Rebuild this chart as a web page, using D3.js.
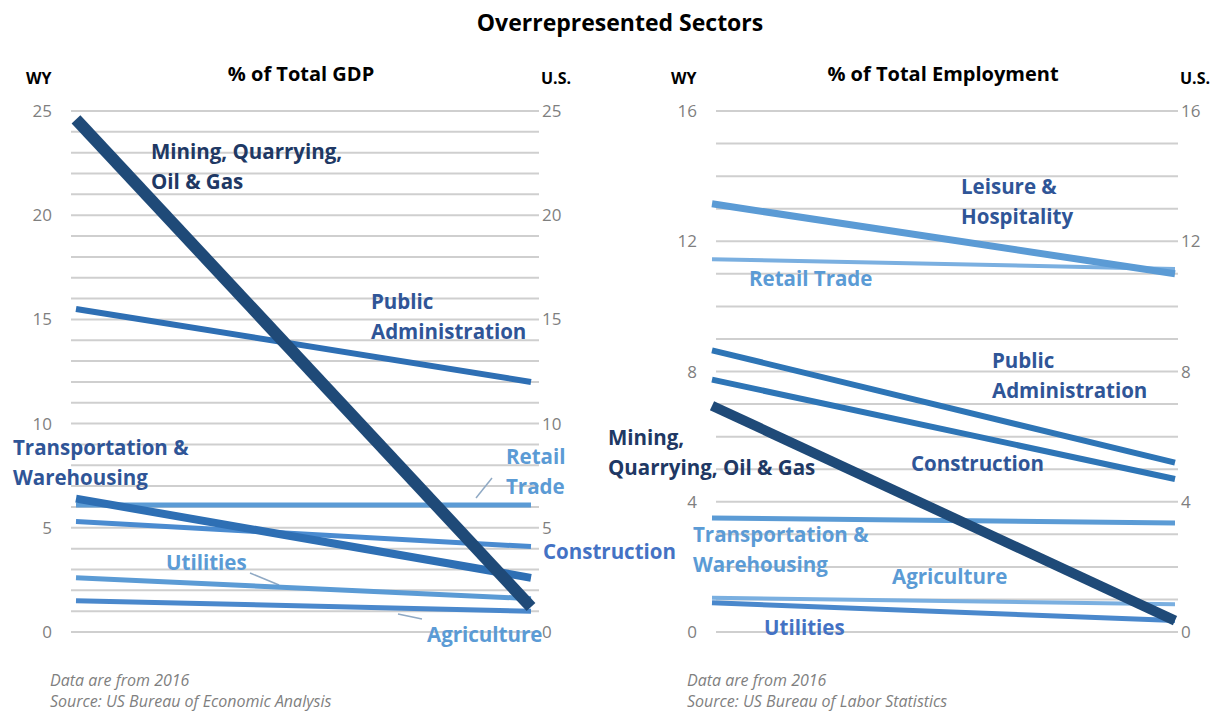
<!DOCTYPE html>
<meta charset="utf-8">
<html>
<head>
  <meta charset="utf-8">
  <title>Overrepresented Sectors</title>
</head>
<style>
  body { margin: 0; background: #fff; }
  text { font-family: "Open Sans", Lato, sans-serif; }
  .grid line { stroke: #cfcfcf; stroke-width: 2px; }
  .tick-label { fill: #7f7f7f; font-size: 17px; }
  .hdr { font-weight: bold; fill: #000; }
  .lbl { font-weight: bold; font-size: 20.5px; }
  .note { font-style: italic; fill: #7f7f7f; font-size: 16px; }
</style>
<body>
<svg width="1217" height="713"></svg>
<script src="https://d3js.org/d3.v7.min.js"></script>
<script>

// ---- data ----
var ends = ["WY", "U.S."];

var gdpSectors = ["Agriculture", "Utilities", "Construction", "Retail Trade",
                  "Transportation & Warehousing", "Public Administration",
                  "Mining, Quarrying, Oil & Gas"];
var gdpWY = [1.5, 2.6, 5.3, 6.1, 6.4, 15.5, 24.6];
var gdpUS = [1.0, 1.6, 4.1, 6.1, 2.6, 12.0, 1.2];

var empSectors = ["Agriculture", "Utilities", "Transportation & Warehousing",
                  "Retail Trade", "Leisure & Hospitality", "Construction",
                  "Public Administration", "Mining, Quarrying, Oil & Gas"];
var empWY = [1.05, 0.9, 3.5, 11.45, 13.15, 7.75, 8.65, 6.95];
var empUS = [0.85, 0.35, 3.35, 11.15, 11.0, 4.7, 5.2, 0.35];

var gdpTicks = [0, 5, 10, 15, 20, 25];
var empTicks = [0, 4, 8, 12, 16];

// ---- styles per series ----
var gdpStyle = {
  "Agriculture": {c: "#4a88cc", w: 5},
  "Utilities": {c: "#5b9bd5", w: 5},
  "Construction": {c: "#4a8bd0", w: 5},
  "Retail Trade": {c: "#5b9bd5", w: 5},
  "Transportation & Warehousing": {c: "#2e6fb4", w: 8},
  "Public Administration": {c: "#2e6fb4", w: 6},
  "Mining, Quarrying, Oil & Gas": {c: "#1f4a78", w: 12}
};
var empStyle = {
  "Agriculture": {c: "#7aafe0", w: 4},
  "Utilities": {c: "#4a88cc", w: 5},
  "Transportation & Warehousing": {c: "#5b9bd5", w: 5},
  "Retail Trade": {c: "#7aafe0", w: 4},
  "Leisure & Hospitality": {c: "#5b9bd5", w: 7},
  "Construction": {c: "#2e75b6", w: 6},
  "Public Administration": {c: "#2e75b6", w: 6},
  "Mining, Quarrying, Oil & Gas": {c: "#1f4a78", w: 10}
};

var gdpLabels = [
  {t: ["Mining, Quarrying,", "Oil & Gas"], x: 151, y: 159, c: "#203864"},
  {t: ["Public", "Administration"], x: 371, y: 309, c: "#2f5597"},
  {t: ["Transportation &", "Warehousing"], x: 13, y: 455, c: "#2f5597"},
  {t: ["Retail", "Trade"], x: 506, y: 464, c: "#5b9bd5"},
  {t: ["Construction"], x: 543, y: 559, c: "#4472c4"},
  {t: ["Utilities"], x: 166, y: 570, c: "#5b9bd5"},
  {t: ["Agriculture"], x: 427, y: 642, c: "#5b9bd5"}
];
var gdpLeaders = [[476, 498, 492, 478], [250, 573, 279, 585], [398, 614, 422, 619]];

var empLabels = [
  {t: ["Leisure &", "Hospitality"], x: 961, y: 194, c: "#2f5597"},
  {t: ["Retail Trade"], x: 749, y: 286, c: "#5b9bd5"},
  {t: ["Public", "Administration"], x: 992, y: 368, c: "#2f5597"},
  {t: ["Mining,", "Quarrying, Oil & Gas"], x: 608, y: 445, c: "#203864"},
  {t: ["Construction"], x: 911, y: 471, c: "#2f5597"},
  {t: ["Transportation &", "Warehousing"], x: 693, y: 542, c: "#5b9bd5"},
  {t: ["Agriculture"], x: 892, y: 584, c: "#5b9bd5"},
  {t: ["Utilities"], x: 764, y: 635, c: "#4472c4"}
];

var svg = d3.select("svg");

svg.append("text").attr("class", "hdr")
    .attr("x", 620).attr("y", 31).attr("text-anchor", "middle")
    .style("font-size", "23px").text("Overrepresented Sectors");

function slopeChart(opt) {
  var g = svg.append("g");
  var y = d3.scaleLinear().domain([0, opt.max]).range([632, 111]);
  var x = d3.scalePoint().domain(ends).range([opt.x0, opt.x1]);

  // gridlines every 1 unit
  g.append("g").attr("class", "grid")
    .selectAll("line").data(d3.range(0, opt.max + 1))
    .enter().append("line")
      .attr("x1", opt.g0).attr("x2", opt.g1)
      .attr("y1", function(d) { return y(d); })
      .attr("y2", function(d) { return y(d); });

  // tick labels on both sides
  g.selectAll(".tl").data(opt.ticks).enter().append("text")
      .attr("class", "tick-label").attr("text-anchor", "end")
      .attr("x", opt.g0 - 19).attr("y", function(d) { return y(d) + 6; })
      .text(function(d) { return d; });
  g.selectAll(".tr").data(opt.ticks).enter().append("text")
      .attr("class", "tick-label")
      .attr("x", opt.g1 + 3).attr("y", function(d) { return y(d) + 6; })
      .text(function(d) { return d; });

  g.append("text").attr("class", "hdr").style("font-size", "16px")
      .attr("x", opt.g0 - 45).attr("y", 84).text("WY");
  g.append("text").attr("class", "hdr").style("font-size", "16px")
      .attr("x", opt.g1 + 2).attr("y", 84).text("U.S.");
  g.append("text").attr("class", "hdr").style("font-size", "20px")
      .attr("x", opt.title_x).attr("y", 81).attr("text-anchor", "middle")
      .text(opt.title);

  // leader lines
  g.selectAll(".ld").data(opt.leaders).enter().append("line")
      .attr("x1", function(d) { return d[0]; }).attr("y1", function(d) { return d[1]; })
      .attr("x2", function(d) { return d[2]; }).attr("y2", function(d) { return d[3]; })
      .attr("stroke", "#8fa9c4").attr("stroke-width", 1.5);

  // slope lines
  g.selectAll(".sl").data(opt.sectors).enter().append("line")
      .attr("x1", x("WY")).attr("x2", x("U.S."))
      .attr("y1", function(d, i) { return y(opt.wy[i]); })
      .attr("y2", function(d, i) { return y(opt.us[i]); })
      .attr("stroke", function(d) { return opt.style[d].c; })
      .attr("stroke-width", function(d) { return opt.style[d].w; });

  // labels
  var lab = g.selectAll(".lb").data(opt.labels).enter().append("text")
      .attr("class", "lbl")
      .attr("fill", function(d) { return d.c; });
  lab.selectAll("tspan").data(function(d) {
      return d.t.map(function(s, k) { return {s: s, x: d.x, y: d.y + k * 30}; });
    }).enter().append("tspan")
      .attr("x", function(d) { return d.x; })
      .attr("y", function(d) { return d.y; })
      .text(function(d) { return d.s; });

  g.append("text").attr("class", "note").attr("x", opt.note_x).attr("y", 686)
      .text("Data are from 2016");
  g.append("text").attr("class", "note").attr("x", opt.note_x).attr("y", 707)
      .text(opt.source);
}

slopeChart({
  max: 25, ticks: gdpTicks, x0: 76, x1: 531, g0: 71, g1: 539,
  title: "% of Total GDP", title_x: 301, note_x: 50,
  sectors: gdpSectors, wy: gdpWY, us: gdpUS, style: gdpStyle,
  labels: gdpLabels, leaders: gdpLeaders,
  source: "Source: US Bureau of Economic Analysis"
});

slopeChart({
  max: 16, ticks: empTicks, x0: 712, x1: 1175, g0: 716, g1: 1178,
  title: "% of Total Employment", title_x: 943, note_x: 687,
  sectors: empSectors, wy: empWY, us: empUS, style: empStyle,
  labels: empLabels, leaders: [],
  source: "Source: US Bureau of Labor Statistics"
});

</script>
</body>
</html>
